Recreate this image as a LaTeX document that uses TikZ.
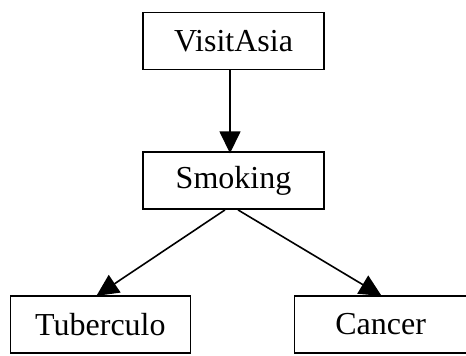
\documentclass[tikz,border=0pt]{standalone}
\usepackage{fontspec}
\setmainfont{Liberation Serif}
\usetikzlibrary{arrows.meta,positioning}

\begin{document}
\begin{tikzpicture}[>={Triangle[length=22pt,width=21pt]},line width=1.6pt,
  var/.style={draw,minimum height=57pt,inner sep=0pt,font=\fontsize{32}{37}\selectfont}]
\useasboundingbox (0,0) rectangle (466pt,-356pt);
\node[var,minimum width=181pt] (visit) at (233.5pt,-41pt) {VisitAsia};
\node[var,minimum width=181pt,below=81pt of visit] (smk) {Smoking};
\node[var,minimum width=180pt,below left=85pt and -49pt of smk] (tub) {Tuberculo};
\node[var,minimum width=172pt,below right=85pt and -31pt of smk] (canc) {Cancer};
\draw[->] ([xshift=-3.5pt]visit.south) -- ([xshift=-3.5pt,yshift=-2pt]smk.north);
\draw[->] ([xshift=-8.5pt]smk.south) -- ([xshift=-4pt,yshift=-1pt]tub.north);
\draw[->] ([xshift=4.5pt]smk.south) -- ([xshift=1pt,yshift=-1pt]canc.north);
\end{tikzpicture}
\end{document}
